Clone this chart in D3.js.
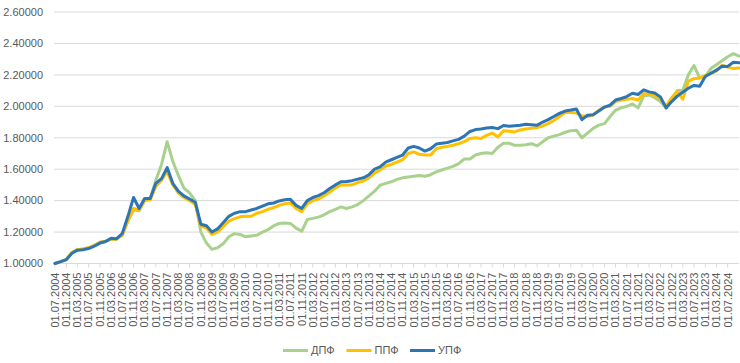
<!DOCTYPE html>
<html>
<head>
<meta charset="utf-8">
<script src="https://cdn.jsdelivr.net/npm/d3@7"></script>
<style>
  body { margin: 0; background: #fff; }
  text { font-family: "Liberation Sans", Arial, sans-serif; fill: #595959; }
</style>
</head>
<body>
<div id="chart"></div>
<script>
const W = 740, H = 363;
const plot = { left: 55, right: 739, top: 12, bottom: 263.5 };

// one value every 2 months, starting 01.07.2004
const startDate = new Date(Date.UTC(2004, 6, 1));
const endDate = new Date(Date.UTC(2024, 10, 1));

const dpf = [
  1.000, 1.012, 1.025, 1.070, 1.088, 1.092,
  1.100, 1.115, 1.135, 1.140, 1.155, 1.155,
  1.180, 1.270, 1.340, 1.335, 1.400, 1.410,
  1.530, 1.630, 1.775, 1.650, 1.560, 1.480,
  1.450, 1.400, 1.200, 1.130, 1.090, 1.100,
  1.125, 1.170, 1.190, 1.185, 1.170, 1.175,
  1.180, 1.200, 1.215, 1.240, 1.255, 1.258,
  1.255, 1.225, 1.205, 1.280, 1.287, 1.295,
  1.310, 1.330, 1.345, 1.360, 1.350, 1.360,
  1.375, 1.400, 1.430, 1.460, 1.498, 1.510,
  1.520, 1.535, 1.545, 1.550, 1.555, 1.560,
  1.555, 1.565, 1.583, 1.595, 1.607, 1.618,
  1.635, 1.665, 1.665, 1.690, 1.700, 1.705,
  1.700, 1.740, 1.765, 1.765, 1.752, 1.752,
  1.755, 1.762, 1.748, 1.775, 1.800, 1.810,
  1.820, 1.835, 1.845, 1.848, 1.800, 1.830,
  1.860, 1.880, 1.890, 1.935, 1.975, 1.990,
  2.000, 2.015, 1.990, 2.065, 2.072, 2.055,
  2.030, 1.990, 2.050, 2.100, 2.100, 2.200,
  2.260, 2.180, 2.190, 2.240, 2.265, 2.290,
  2.315, 2.335, 2.320
];

const ppf = [
  1.000, 1.012, 1.025, 1.070, 1.088, 1.092,
  1.100, 1.115, 1.135, 1.140, 1.155, 1.155,
  1.180, 1.270, 1.350, 1.340, 1.400, 1.405,
  1.490, 1.530, 1.585, 1.500, 1.450, 1.420,
  1.400, 1.375, 1.240, 1.225, 1.185, 1.200,
  1.235, 1.270, 1.285, 1.297, 1.300, 1.300,
  1.320, 1.330, 1.345, 1.355, 1.370, 1.380,
  1.385, 1.350, 1.330, 1.380, 1.400, 1.410,
  1.430, 1.455, 1.480, 1.500, 1.500, 1.500,
  1.515, 1.525, 1.545, 1.575, 1.595, 1.620,
  1.630, 1.645, 1.660, 1.700, 1.710, 1.695,
  1.690, 1.690, 1.730, 1.740, 1.745, 1.752,
  1.762, 1.775, 1.795, 1.800, 1.795, 1.815,
  1.830, 1.805, 1.845, 1.842, 1.837, 1.850,
  1.855, 1.860, 1.865, 1.875, 1.890, 1.910,
  1.935, 1.960, 1.962, 1.958, 1.940, 1.935,
  1.945, 1.975, 1.995, 2.000, 2.030, 2.040,
  2.045, 2.050, 2.040, 2.080, 2.078, 2.070,
  2.050, 2.000, 2.055, 2.095, 2.045, 2.160,
  2.176, 2.180, 2.197, 2.208, 2.225, 2.260,
  2.250, 2.240, 2.243
];

const upf = [
  1.000, 1.012, 1.025, 1.065, 1.085, 1.088,
  1.095, 1.110, 1.130, 1.140, 1.160, 1.158,
  1.190, 1.300, 1.420, 1.350, 1.414, 1.414,
  1.510, 1.540, 1.610, 1.510, 1.460, 1.430,
  1.410, 1.390, 1.250, 1.240, 1.200, 1.220,
  1.260, 1.300, 1.320, 1.330, 1.330, 1.340,
  1.350, 1.365, 1.380, 1.385, 1.398, 1.405,
  1.408, 1.370, 1.350, 1.400, 1.420, 1.432,
  1.450, 1.477, 1.500, 1.520, 1.522, 1.527,
  1.537, 1.545, 1.565, 1.600, 1.615, 1.645,
  1.660, 1.675, 1.690, 1.735, 1.745, 1.735,
  1.715, 1.730, 1.760, 1.765, 1.770, 1.780,
  1.790, 1.810, 1.840, 1.852, 1.856, 1.862,
  1.865, 1.858, 1.878, 1.873, 1.876, 1.879,
  1.886, 1.883, 1.880, 1.900, 1.915, 1.935,
  1.955, 1.970, 1.976, 1.983, 1.915, 1.943,
  1.947, 1.970, 1.995, 2.008, 2.040, 2.050,
  2.062, 2.083, 2.075, 2.105, 2.092, 2.085,
  2.060, 1.990, 2.030, 2.065, 2.090, 2.115,
  2.133, 2.128, 2.190, 2.210, 2.230, 2.255,
  2.254, 2.280, 2.277
];

const seriesNames = ["ДПФ", "ППФ", "УПФ"];
const seriesColors = ["#a9d18e", "#ffc000", "#2e75b6"];

const yTicks = [1.0, 1.2, 1.4, 1.6, 1.8, 2.0, 2.2, 2.4, 2.6];

const xTickLabels = [
  "01.07.2004", "01.11.2004",
  "01.03.2005", "01.07.2005", "01.11.2005",
  "01.03.2006", "01.07.2006", "01.11.2006",
  "01.03.2007", "01.07.2007", "01.11.2007",
  "01.03.2008", "01.07.2008", "01.11.2008",
  "01.03.2009", "01.07.2009", "01.11.2009",
  "01.03.2010", "01.07.2010", "01.11.2010",
  "01.03.2011", "01.07.2011", "01.11.2011",
  "01.03.2012", "01.07.2012", "01.11.2012",
  "01.03.2013", "01.07.2013", "01.11.2013",
  "01.03.2014", "01.07.2014", "01.11.2014",
  "01.03.2015", "01.07.2015", "01.11.2015",
  "01.03.2016", "01.07.2016", "01.11.2016",
  "01.03.2017", "01.07.2017", "01.11.2017",
  "01.03.2018", "01.07.2018", "01.11.2018",
  "01.03.2019", "01.07.2019", "01.11.2019",
  "01.03.2020", "01.07.2020", "01.11.2020",
  "01.03.2021", "01.07.2021", "01.11.2021",
  "01.03.2022", "01.07.2022", "01.11.2022",
  "01.03.2023", "01.07.2023", "01.11.2023",
  "01.03.2024", "01.07.2024"
];

const parse = d3.utcParse("%d.%m.%Y");
const dates = dpf.map((d, i) => d3.utcMonth.offset(startDate, 2 * i));

const x = d3.scaleUtc().domain([startDate, endDate]).range([plot.left, plot.right]);
const y = d3.scaleLinear().domain([1, 2.6]).range([plot.bottom, plot.top]);

const svg = d3.select("#chart").append("svg")
  .attr("width", W)
  .attr("height", H);

// gridlines
svg.append("g")
  .selectAll("line")
  .data(yTicks.slice(1))
  .join("line")
  .attr("x1", plot.left - 1)
  .attr("x2", plot.right)
  .attr("y1", (d) => y(d))
  .attr("y2", (d) => y(d))
  .attr("stroke", "#d9d9d9")
  .attr("stroke-width", 1);

// y labels
svg.append("g")
  .selectAll("text")
  .data(yTicks)
  .join("text")
  .attr("x", 43)
  .attr("y", (d) => y(d))
  .attr("dy", "0.35em")
  .attr("text-anchor", "end")
  .attr("font-size", "11px")
  .text((d) => d.toFixed(5));

// x axis line + ticks
svg.append("line")
  .attr("x1", plot.left - 1)
  .attr("x2", plot.right)
  .attr("y1", plot.bottom)
  .attr("y2", plot.bottom)
  .attr("stroke", "#d9d9d9");

const xAxis = svg.append("g");
xAxis.selectAll("line")
  .data(xTickLabels)
  .join("line")
  .attr("x1", (d) => x(parse(d)))
  .attr("x2", (d) => x(parse(d)))
  .attr("y1", plot.bottom)
  .attr("y2", plot.bottom + 4)
  .attr("stroke", "#d9d9d9");

xAxis.selectAll("text")
  .data(xTickLabels)
  .join("text")
  .attr("transform", (d) => `translate(${x(parse(d))},${plot.bottom + 9}) rotate(-90)`)
  .attr("dy", "0.35em")
  .attr("text-anchor", "end")
  .attr("font-size", "11px")
  .text((d) => d);

// lines
const line = d3.line()
  .x((d, i) => x(dates[i]))
  .y((d) => y(d));

[dpf, ppf, upf].forEach((s, k) => {
  svg.append("path")
    .datum(s)
    .attr("d", line)
    .attr("fill", "none")
    .attr("stroke", seriesColors[k])
    .attr("stroke-width", 3)
    .attr("stroke-linejoin", "round")
    .attr("stroke-linecap", "round");
});

// legend
const legend = svg.append("g").attr("transform", "translate(283, 350.5)");
seriesNames.forEach((name, k) => {
  const g = legend.append("g").attr("transform", `translate(${k * 63.5}, 0)`);
  g.append("line")
    .attr("x1", 0)
    .attr("x2", 25)
    .attr("stroke", seriesColors[k])
    .attr("stroke-width", 3);
  g.append("text")
    .attr("x", 28)
    .attr("dy", "0.35em")
    .attr("font-size", "11px")
    .text(name);
});
</script>
</body>
</html>
